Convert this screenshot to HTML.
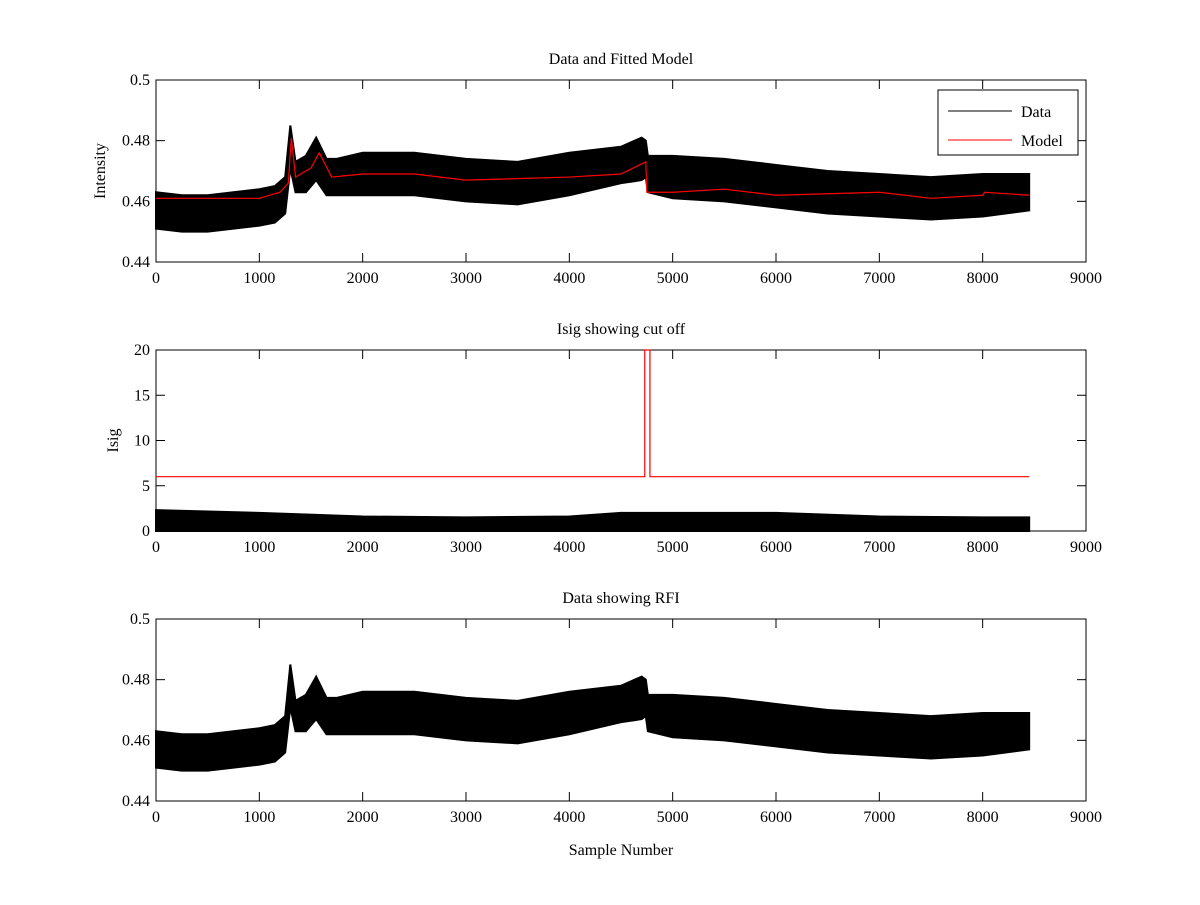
<!DOCTYPE html>
<html><head><meta charset="utf-8">
<style>
body{margin:0;background:#fff;}
svg text{font-family:"Liberation Serif",serif;font-size:16px;fill:#000;}
</style></head>
<body>
<svg id="fig" width="1200" height="900" xmlns="http://www.w3.org/2000/svg"></svg>
<script>
// ---- data ----
const xTicks=[0,1000,2000,3000,4000,5000,6000,7000,8000,9000];
const intTicks=[0.44,0.46,0.48,0.5];
const isigTicks=[0,5,10,15,20];
const dataX=[0,250,500,750,1000,1150,1250,1300,1350,1450,1550,1650,1750,2000,2500,3000,3500,4000,4500,4700,4740,4760,5000,5500,6000,6500,7000,7500,8000,8450];
const dataMid=[0.457,0.456,0.456,0.457,0.458,0.459,0.462,0.478,0.468,0.469,0.474,0.468,0.468,0.469,0.469,0.467,0.466,0.469,0.472,0.474,0.474,0.469,0.468,0.467,0.465,0.463,0.462,0.461,0.462,0.463];
const dataHalf=[0.006,0.006,0.006,0.006,0.006,0.006,0.006,0.007,0.005,0.006,0.007,0.006,0.006,0.007,0.007,0.007,0.007,0.007,0.006,0.007,0.006,0.006,0.007,0.007,0.007,0.007,0.007,0.007,0.007,0.006];
const modelX=[0,1000,1200,1280,1310,1350,1500,1580,1700,2000,2500,3000,4000,4500,4740,4750,5000,5500,6000,7000,7500,8000,8020,8450];
const modelY=[0.461,0.461,0.463,0.466,0.481,0.468,0.471,0.476,0.468,0.469,0.469,0.467,0.468,0.469,0.473,0.463,0.463,0.464,0.462,0.463,0.461,0.462,0.463,0.462];
const cutX=[0,4730,4730,4780,4780,8450];
const cutY=[6,6,20,20,6,6];
const isigX=[0,1000,2000,3000,4000,4500,5000,6000,7000,8000,8450];
const isigHi=[2.3,2.0,1.6,1.5,1.6,2.0,2.0,2.0,1.6,1.5,1.5];

// ---- helpers ----
const svg=document.getElementById('fig');
const NS='http://www.w3.org/2000/svg';
function mk(tag,attrs,parent){const e=document.createElementNS(NS,tag);for(const k in attrs)e.setAttribute(k,attrs[k]);(parent||svg).appendChild(e);return e;}
const X0=156,X1=1086;
const sx=v=>X0+(v/9000)*(X1-X0);
function axes(name,top,bot,ymin,ymax,yt,title,ylab,fmt){
  const g=mk('g',{});
  
  
  const sy=v=>bot-(v-ymin)/(ymax-ymin)*(bot-top);
  const r=mk('rect',{x:X0,y:top,width:X1-X0,height:bot-top,fill:'#fff',stroke:'#000','stroke-width':1},g);
  
  
  xTicks.forEach(t=>{const x=sx(t);
    mk('line',{x1:x,x2:x,y1:bot,y2:bot-9,stroke:'#000'},g);
    mk('line',{x1:x,x2:x,y1:top,y2:top+9,stroke:'#000'},g);
    const tx=mk('text',{x:x,y:bot+21,'text-anchor':'middle'},g);tx.textContent=t;
    
    });
  yt.forEach(t=>{const y=sy(t);
    mk('line',{x1:X0,x2:X0+9,y1:y,y2:y,stroke:'#000'},g);
    mk('line',{x1:X1,x2:X1-9,y1:y,y2:y,stroke:'#000'},g);
    const tx=mk('text',{x:X0-6,y:y+5,'text-anchor':'end'},g);tx.textContent=fmt(t);
    
    });
  const tt=mk('text',{x:(X0+X1)/2,y:top-16,'text-anchor':'middle'},g);tt.textContent=title;
  
  
  const yl=mk('text',{x:0,y:0,'text-anchor':'middle',transform:`translate(${ylab[1]},${(top+bot)/2}) rotate(-90)`},g);yl.textContent=ylab[0];
  
  
  return {g,sy};
}
function band(ax,xs,mid,half,name){
  let pts=xs.map((x,i)=>sx(x)+','+ax.sy(mid[i]+half[i]));
  pts=pts.concat(xs.map((x,i)=>sx(x)+','+ax.sy(mid[i]-half[i])).reverse());
  const p=mk('polygon',{points:pts.join(' '),fill:'#000',stroke:'#000','stroke-width':2},ax.g);
  
  
}
function line(ax,xs,ys,col,name){
  const p=mk('polyline',{points:xs.map((x,i)=>sx(x)+','+ax.sy(ys[i])).join(' '),fill:'none',stroke:col,'stroke-width':1.2},ax.g);
  
  
}
const f2=t=>t===0.5?'0.5':t.toFixed(2);

// panel 1
const a1=axes('data-model-axes',80,262,0.44,0.5,intTicks,'Data and Fitted Model',['Intensity',105],f2);
band(a1,dataX,dataMid,dataHalf,'data-series');
line(a1,modelX,modelY,'#f00','model-series');
const lg=mk('g',{});


mk('rect',{x:938,y:90,width:140,height:65,fill:'#fff',stroke:'#000'},lg);
mk('line',{x1:948,x2:1012,y1:111,y2:111,stroke:'#000'},lg);
mk('line',{x1:948,x2:1012,y1:140,y2:140,stroke:'#f00'},lg);
let t=mk('text',{x:1021,y:117},lg);t.textContent='Data';


t=mk('text',{x:1021,y:146},lg);t.textContent='Model';



// panel 2
const a2=axes('isig-axes',350,531,0,20,isigTicks,'Isig showing cut off',['Isig',118],v=>v);
band(a2,isigX,isigHi.map(v=>v/2),isigHi.map(v=>v/2),'isig-series');
line(a2,cutX,cutY,'#f00','cutoff-line');

// panel 3
const a3=axes('rfi-axes',619,801,0.44,0.5,intTicks,'Data showing RFI',['',0],f2);
band(a3,dataX,dataMid,dataHalf,'rfi-data-series');
const xl=mk('text',{x:621,y:855,'text-anchor':'middle'});xl.textContent='Sample Number';


</script>
</body></html>
